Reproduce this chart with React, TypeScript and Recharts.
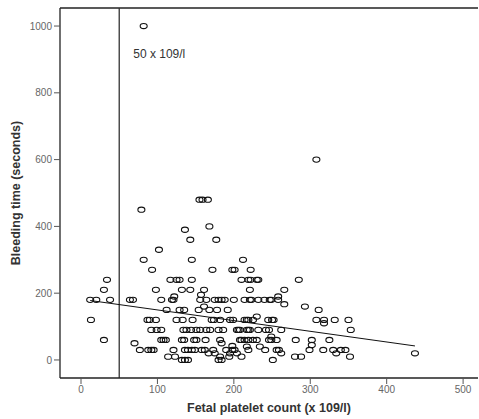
import React from 'react';
import { ScatterChart, Scatter, XAxis, YAxis, ReferenceLine } from 'recharts';

// Fetal platelet count (x 10^9/l) vs bleeding time (seconds)
const plateletCounts = [
  82, 308, 79, 155, 159, 166, 168, 136, 143, 177, 102, 82, 145, 212, 93, 172, 198, 201, 222,
  34, 117, 125, 129, 145, 210, 219, 222, 230, 232, 285,
  30, 98, 132, 143, 161, 221, 266,
  12, 20, 38, 64, 68, 105, 119, 121, 156, 164, 175, 180, 184, 188, 200, 214, 221, 223, 232, 240, 247, 249, 258,
  122, 157, 161, 258, 266, 293, 311,
  112, 129, 135, 154, 168, 178, 192, 230,
  13, 87, 90, 98, 125, 133, 146, 171, 174, 182, 195, 199, 214, 217, 219, 225, 245, 250, 252, 308, 318, 332, 350, 318,
  92, 99, 105, 134, 138, 144, 151, 156, 164, 169, 180, 186, 204, 206, 208, 217, 219, 221, 232, 242, 246, 262, 353, 249,
  30, 105, 108, 111, 132, 135, 148, 151, 163, 182, 208, 210, 214, 219, 225, 230, 246, 249, 256, 281, 302, 325,
  70, 184, 302, 217, 234, 198,
  77, 88, 92, 95, 121, 136, 140, 145, 149, 158, 162, 173, 190, 198, 201, 219, 241, 256, 259, 299, 317, 330, 340, 346,
  167, 175, 195, 204, 262, 334, 437,
  114, 123, 182, 194, 210, 280, 288, 352,
  132, 136, 140, 180, 184, 251,
];

const bleedingTimes = [
  1000, 600, 450, 480, 480, 480, 400, 390, 360, 360, 330, 300, 300, 300, 270, 270, 270, 270, 270,
  240, 240, 240, 240, 240, 240, 240, 240, 240, 240, 240,
  210, 210, 210, 210, 210, 210, 210,
  180, 180, 180, 180, 180, 180, 180, 180, 180, 180, 180, 180, 180, 180, 180, 180, 180, 180, 180, 180, 180, 180, 180,
  190, 195, 160, 190, 167, 160, 150,
  150, 150, 150, 150, 150, 150, 150, 130,
  120, 120, 120, 120, 120, 120, 120, 120, 120, 120, 120, 120, 120, 120, 120, 120, 120, 120, 120, 120, 120, 120, 120, 110,
  90, 90, 90, 90, 90, 90, 90, 90, 90, 90, 90, 90, 90, 90, 90, 90, 90, 90, 90, 90, 90, 90, 90, 70,
  60, 60, 60, 60, 60, 60, 60, 60, 60, 60, 60, 60, 60, 60, 60, 60, 60, 60, 60, 60, 60, 60,
  50, 50, 45, 40, 40, 42,
  30, 30, 30, 30, 30, 30, 30, 30, 30, 30, 30, 30, 30, 30, 30, 30, 30, 30, 30, 30, 30, 30, 30, 30,
  20, 20, 20, 20, 20, 20, 20,
  10, 10, 10, 10, 10, 10, 10, 10,
  0, 0, 0, 0, 0, 0,
];

// linear fit endpoints
const fitX = [12, 437];
const fitY = [178, 42];

const xTicks = [0, 100, 200, 300, 400, 500];
const yTicks = [0, 200, 400, 600, 800, 1000];

const points = plateletCounts.map((x, i) => ({ x, y: bleedingTimes[i] }));
const fitLine = fitX.map((x, i) => ({ x, y: fitY[i] }));

const font = 'Arial, "Liberation Sans", sans-serif';

const OpenEllipse = (props: any) => (
  <ellipse cx={props.cx} cy={props.cy} rx={3.5} ry={2.6} fill="none" stroke="#111" strokeWidth={1.1} />
);

const App = () => {
  return (
    <div style={{ position: 'absolute', left: 0, top: 0, background: '#fff' }}>
      <ScatterChart width={479} height={419} margin={{ top: 8, right: 1, bottom: 0, left: 0 }}>
        <XAxis
          type="number"
          dataKey="x"
          domain={[-27.5, 519.5]}
          ticks={xTicks}
          allowDataOverflow
          height={41}
          tickSize={6}
          axisLine={{ stroke: '#222', strokeWidth: 1.3 }}
          tickLine={{ stroke: '#555' }}
          tick={{ fill: '#666', fontSize: 10, fontFamily: font }}
          label={{
            value: 'Fetal platelet count (x 109/l)',
            position: 'insideBottom',
            offset: 7,
            style: { fill: '#333', fontSize: 12.5, fontWeight: 'bold', fontFamily: font },
          }}
        />
        <YAxis
          type="number"
          dataKey="y"
          domain={[-54, 1054]}
          ticks={yTicks}
          allowDataOverflow
          width={60}
          tickSize={6}
          axisLine={{ stroke: '#222', strokeWidth: 1.3 }}
          tickLine={{ stroke: '#555' }}
          tick={{ fill: '#666', fontSize: 10, fontFamily: font }}
          label={{
            value: 'Bleeding time (seconds)',
            angle: -90,
            position: 'insideLeft',
            offset: 16,
            style: { fill: '#333', fontSize: 12.5, fontWeight: 'bold', fontFamily: font, textAnchor: 'middle' },
          }}
        />
        <ReferenceLine y={1054} stroke="#222" strokeWidth={1.3} />
        <ReferenceLine
          x={50}
          stroke="#333"
          strokeWidth={1.3}
          label={(p: any) => (
            <text x={p.viewBox.x + 14} y={58} fill="#333" fontSize={12} fontFamily={font}>
              50 x 109/l
            </text>
          )}
        />
        <Scatter data={points} shape={<OpenEllipse />} isAnimationActive={false} />
        <Scatter
          data={fitLine}
          line={{ stroke: '#111', strokeWidth: 1 }}
          shape={() => <g />}
          isAnimationActive={false}
        />
      </ScatterChart>
    </div>
  );
};

export default App;
